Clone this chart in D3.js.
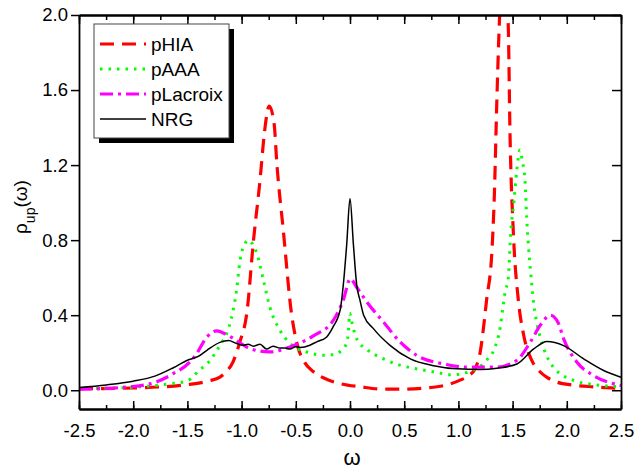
<!DOCTYPE html>
<html>
<head>
<meta charset="utf-8">
<script src="https://cdn.jsdelivr.net/npm/d3@7"></script>
<style>
  body { margin: 0; background: #fff; }
  svg text { font-family: "Liberation Sans", Arial, sans-serif; }
</style>
</head>
<body>
<svg id="chart" width="637" height="472"></svg>
<script>
// ---- data ----
const hiaW = [-2.5, -2.0, -1.5, -1.3, -1.2, -1.14, -1.08, -1.02, -0.95, -0.89, -0.83, -0.79, -0.745, -0.70, -0.675, -0.615, -0.54, -0.48, -0.42, -0.34, -0.2, -0.09, 0.1, 0.3, 0.5, 0.7, 0.9, 1.0, 1.1, 1.15, 1.2, 1.26, 1.31, 1.33, 1.355, 1.38, 1.42, 1.46, 1.476, 1.507, 1.553, 1.6, 1.676, 1.75, 1.814, 1.9, 2.06, 2.25, 2.5];
const hiaRho = [0.008, 0.012, 0.03, 0.05, 0.07, 0.1, 0.15, 0.25, 0.42, 0.8, 1.12, 1.37, 1.515, 1.42, 1.21, 0.85, 0.41, 0.23, 0.15, 0.1, 0.055, 0.035, 0.018, 0.006, 0.006, 0.012, 0.03, 0.05, 0.08, 0.11, 0.2, 0.48, 0.75, 1.01, 1.55, 1.99, 2.3, 1.94, 1.37, 0.84, 0.48, 0.3, 0.16, 0.1, 0.07, 0.045, 0.027, 0.018, 0.01];

const aaaW = [-2.5, -2.0, -1.69, -1.5, -1.384, -1.32, -1.2, -1.12, -1.08, -1.045, -1.015, -0.97, -0.938, -0.9, -0.86, -0.8, -0.738, -0.646, -0.554, -0.4, -0.25, -0.15, -0.077, -0.04, -0.016, -0.003, 0.01, 0.028, 0.065, 0.15, 0.31, 0.45, 0.618, 0.8, 0.925, 1.05, 1.137, 1.26, 1.338, 1.384, 1.41, 1.43, 1.46, 1.483, 1.513, 1.538, 1.568, 1.59, 1.614, 1.63, 1.654, 1.676, 1.697, 1.722, 1.783, 1.875, 2.06, 2.25, 2.5];
const aaaRho = [0.008, 0.016, 0.032, 0.05, 0.11, 0.14, 0.24, 0.33, 0.42, 0.54, 0.69, 0.78, 0.80, 0.78, 0.73, 0.59, 0.44, 0.32, 0.25, 0.204, 0.187, 0.19, 0.213, 0.24, 0.30, 0.41, 0.38, 0.336, 0.27, 0.22, 0.167, 0.135, 0.114, 0.095, 0.082, 0.09, 0.107, 0.16, 0.23, 0.33, 0.44, 0.52, 0.60, 0.84, 1.01, 1.17, 1.28, 1.22, 1.12, 0.92, 0.71, 0.57, 0.45, 0.364, 0.23, 0.124, 0.053, 0.03, 0.018];

const lacW = [-2.5, -2.0, -1.783, -1.63, -1.476, -1.414, -1.32, -1.23, -1.15, -1.076, -0.922, -0.738, -0.554, -0.338, -0.154, -0.062, 0.003, 0.06, 0.157, 0.31, 0.464, 0.618, 0.864, 1.08, 1.356, 1.54, 1.663, 1.76, 1.848, 1.92, 1.971, 2.094, 2.248, 2.5];
const lacRho = [0.005, 0.02, 0.045, 0.089, 0.151, 0.196, 0.284, 0.316, 0.30, 0.276, 0.222, 0.204, 0.231, 0.29, 0.373, 0.48, 0.594, 0.55, 0.469, 0.363, 0.256, 0.185, 0.14, 0.123, 0.123, 0.16, 0.256, 0.35, 0.40, 0.36, 0.274, 0.149, 0.078, 0.025];

const nrgW = [-2.5, -2.25, -2.0, -1.8, -1.63, -1.5, -1.4, -1.32, -1.2, -1.12, -1.05, -0.984, -0.94, -0.892, -0.83, -0.77, -0.71, -0.646, -0.6, -0.554, -0.5, -0.46, -0.37, -0.307, -0.215, -0.154, -0.09, -0.062, -0.03, 0, 0.031, 0.062, 0.092, 0.126, 0.218, 0.372, 0.556, 0.772, 0.987, 1.2, 1.356, 1.54, 1.695, 1.817, 1.971, 2.156, 2.34, 2.5];
const nrgRho = [0.014, 0.028, 0.048, 0.075, 0.12, 0.16, 0.18, 0.213, 0.255, 0.265, 0.25, 0.24, 0.245, 0.235, 0.245, 0.22, 0.235, 0.225, 0.225, 0.22, 0.232, 0.228, 0.24, 0.258, 0.284, 0.34, 0.43, 0.56, 0.78, 1.022, 0.78, 0.56, 0.48, 0.40, 0.327, 0.238, 0.167, 0.131, 0.114, 0.11, 0.117, 0.14, 0.22, 0.26, 0.238, 0.167, 0.105, 0.069];

const seriesNames = ["pHIA", "pAAA", "pLacroix", "NRG"];
const xTicks = [-2.5, -2.0, -1.5, -1.0, -0.5, 0.0, 0.5, 1.0, 1.5, 2.0, 2.5];
const yTicks = [0.0, 0.4, 0.8, 1.2, 1.6, 2.0];

// ---- chart ----
const margin = { top: 15, right: 16, bottom: 63, left: 79 };
const svg = d3.select("#chart");
const width = +svg.attr("width") - margin.left - margin.right;
const height = +svg.attr("height") - margin.top - margin.bottom;

const x = d3.scaleLinear().domain([-2.5, 2.5]).range([0, width]);
const y = d3.scaleLinear().domain([-0.1, 2.0]).range([height, 0]);

const g = svg.append("g").attr("transform", `translate(${margin.left},${margin.top})`);

g.append("clipPath").attr("id", "plotclip")
  .append("rect").attr("width", width).attr("height", height);

const styles = [
  { color: "#ff0000", width: 3.2, dash: "14,8" },
  { color: "#00ff00", width: 3, dash: "2.5,6" },
  { color: "#ff00ff", width: 3.2, dash: "13,5,3,5" },
  { color: "#000000", width: 1.5, dash: null }
];
const series = [[hiaW, hiaRho], [aaaW, aaaRho], [lacW, lacRho], [nrgW, nrgRho]];

const line = d3.line()
  .x(d => x(d[0]))
  .y(d => y(d[1]))
  .curve(d3.curveMonotoneX);

const plot = g.append("g").attr("clip-path", "url(#plotclip)");
series.forEach((s, i) => {
  const pts = s[0].map((w, j) => [w, s[1][j]]);
  plot.append("path")
    .datum(pts)
    .attr("d", line)
    .attr("fill", "none")
    .attr("stroke", styles[i].color)
    .attr("stroke-width", styles[i].width)
    .attr("stroke-dasharray", styles[i].dash);
});

// axes
const fmt = d => d.toFixed(1);
const minorX = d3.range(-2.5, 2.51, 0.25);

g.append("g").attr("transform", `translate(0,${height})`)
  .call(d3.axisBottom(x).tickValues(xTicks).tickFormat(fmt).tickSize(-8).tickSizeOuter(0).tickPadding(15));
g.append("g").attr("transform", `translate(0,${height})`)
  .call(d3.axisBottom(x).tickValues(minorX).tickFormat("").tickSize(-4).tickSizeOuter(0));
g.append("g")
  .call(d3.axisTop(x).tickValues(xTicks).tickFormat("").tickSize(-9).tickSizeOuter(0));
g.append("g")
  .call(d3.axisTop(x).tickValues(minorX).tickFormat("").tickSize(-5).tickSizeOuter(0));
g.append("g")
  .call(d3.axisLeft(y).tickValues(yTicks).tickFormat(fmt).tickSize(8).tickSizeOuter(0).tickPadding(3));
g.append("g").attr("transform", `translate(${width},0)`)
  .call(d3.axisRight(y).tickValues(yTicks).tickFormat("").tickSize(-9).tickSizeOuter(0));

g.selectAll(".domain").attr("stroke", "#000").attr("stroke-width", 1.8);
g.selectAll(".tick line").attr("stroke", "#000").attr("stroke-width", 1.5);
g.selectAll(".tick text").attr("fill", "#000").style("font-size", "18.5px");

// axis titles
svg.append("text")
  .attr("x", 352).attr("y", 465)
  .attr("text-anchor", "middle")
  .style("font-size", "22px")
  .text("ω");

const ylab = svg.append("text")
  .attr("transform", "translate(27,207) rotate(-90)")
  .attr("text-anchor", "middle")
  .style("font-size", "19px");
ylab.append("tspan").text("ρ");
ylab.append("tspan").attr("baseline-shift", "sub").style("font-size", "14px").text("up");
ylab.append("tspan").text("(ω)");

// legend
const lg = svg.append("g").attr("transform", "translate(94,24)");
lg.append("rect").attr("x", 5).attr("y", 5).attr("width", 135).attr("height", 114).attr("fill", "#000");
lg.append("rect").attr("width", 135).attr("height", 114)
  .attr("fill", "#fff").attr("stroke", "#444").attr("stroke-width", 1);

const rows = lg.selectAll(".legend").data(seriesNames).enter().append("g")
  .attr("class", "legend")
  .attr("transform", (d, i) => `translate(0,${20 + i * 25})`);
rows.append("line")
  .attr("x1", 6).attr("x2", 52).attr("y1", 0).attr("y2", 0)
  .attr("stroke", (d, i) => styles[i].color)
  .attr("stroke-width", (d, i) => styles[i].width)
  .attr("stroke-dasharray", (d, i) => styles[i].dash);
rows.append("text")
  .attr("x", 57).attr("y", 7)
  .style("font-size", "19px")
  .text(d => d);
</script>
</body>
</html>
